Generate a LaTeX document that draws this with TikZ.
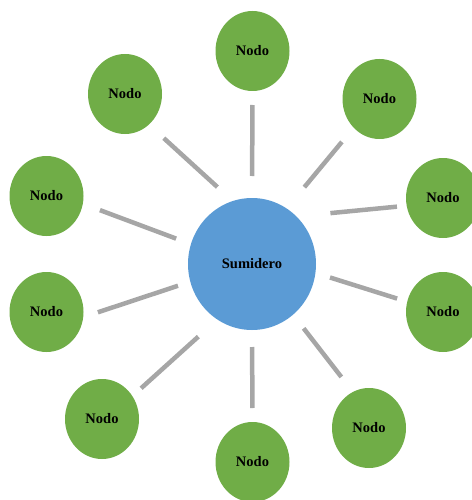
\documentclass[tikz,border=0pt]{standalone}
\usepackage{fontspec}
\setmainfont{Liberation Serif}
\usetikzlibrary{shapes.geometric}
\definecolor{leafgreen}{HTML}{70AD47}
\definecolor{sinkblue}{HTML}{5B9BD5}
\definecolor{linkgray}{HTML}{A6A6A6}
\tikzset{
  leaf/.style={ellipse, fill=leafgreen, draw=none, minimum width=74pt, minimum height=80pt,
    inner sep=0pt, outer sep=0pt, font=\fontsize{14.5}{16}\selectfont\bfseries, text=black},
  sink/.style={ellipse, fill=sinkblue, draw=none, minimum width=128pt, minimum height=132pt,
    inner sep=0pt, outer sep=0pt, font=\fontsize{14.5}{16}\selectfont\bfseries, text=black},
  link/.style={draw=linkgray, line width=4.5pt}
}
\begin{document}
\begin{tikzpicture}[x=1pt,y=-1pt]
\useasboundingbox (0,0) rectangle (471,500);
% central sink
\node[sink] (c) at (252,264) {Sumidero};
% surrounding nodes
\node[leaf] (n1)  at (252.5,51)  {Nodo};
\node[leaf] (n2)  at (125,94)    {Nodo};
\node[leaf] (n3)  at (379.5,99)  {Nodo};
\node[leaf] (n4)  at (443,198)   {Nodo};
\node[leaf] (n5)  at (443,312)   {Nodo};
\node[leaf] (n6)  at (369,428)   {Nodo};
\node[leaf] (n7)  at (252.5,462) {Nodo};
\node[leaf] (n8)  at (102,419)   {Nodo};
\node[leaf] (n9)  at (46.5,312)  {Nodo};
\node[leaf] (n10) at (46.5,196)  {Nodo};
% links, detached from both ends
\draw[link, shorten <=22pt, shorten >=14pt]   (c.90)    -- (n1.270);
\draw[link, shorten <=20.8pt, shorten >=20.2pt] (c.107.4) -- (n2.308.6);
\draw[link, shorten <=27.7pt, shorten >=18.5pt] (c.58.6)  -- (n3.228.5);
\draw[link, shorten <=34.2pt, shorten >=9.8pt]  (c.47.5)  -- (n4.192.6);
\draw[link, shorten <=15.3pt, shorten >=10.6pt] (c.352.6) -- (n5.164.9);
\draw[link, shorten <=17.3pt, shorten >=19pt]   (c.309.6) -- (n6.114.7);
\draw[link, shorten <=17pt, shorten >=14pt]     (c.270)   -- (n7.90);
\draw[link, shorten <=25.6pt, shorten >=11.8pt] (c.238.9) -- (n8.37.6);
\draw[link, shorten <=13pt, shorten >=15.5pt]   (c.196.3) -- (n9.352.6);
\draw[link, shorten <=15.8pt, shorten >=18.3pt] (c.162.4) -- (n10.348.4);
\end{tikzpicture}
\end{document}
